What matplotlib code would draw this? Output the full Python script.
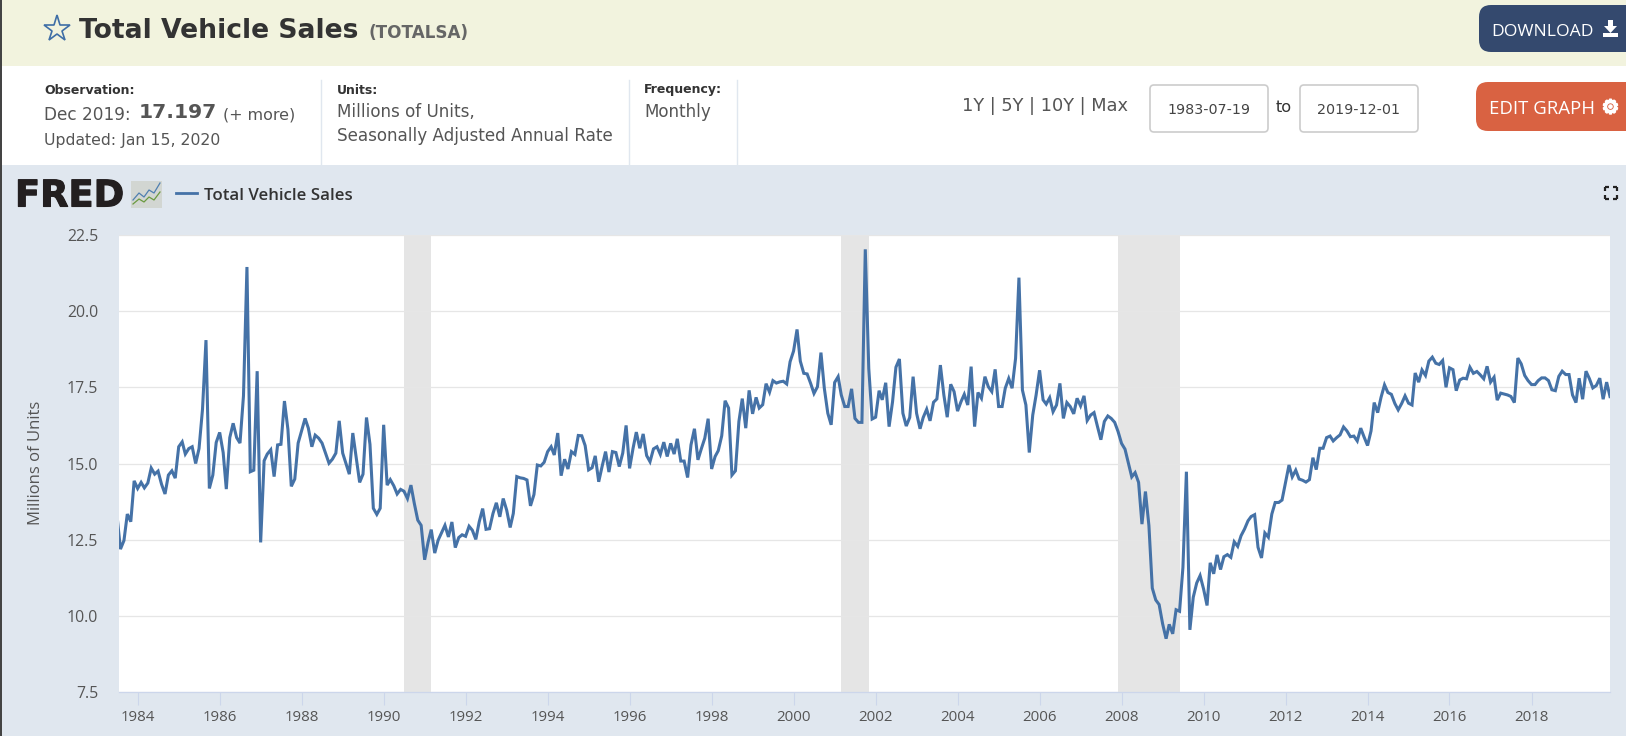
import matplotlib
matplotlib.use("Agg")
import matplotlib.pyplot as plt
import matplotlib.patheffects as pe
from matplotlib.patches import Rectangle, FancyBboxPatch, Polygon
import pandas as pd

START = "1983-07-01"
values = [
 13.3,12.19,12.47,13.34,13.09,14.43,14.18,14.38,14.20,14.36,14.85,14.65,14.75,14.32,14.0,14.62,14.76,14.52,
 15.55,15.71,15.31,15.49,15.55,15.0,15.49,16.78,19.05,14.18,14.62,15.69,16.02,15.36,14.16,15.85,16.32,15.85,
 15.67,17.22,21.45,14.73,14.78,18.03,12.41,15.09,15.31,15.45,14.57,15.61,15.63,17.05,16.12,14.25,14.49,15.67,
 16.07,16.48,16.16,15.55,15.93,15.83,15.67,15.34,15.01,15.14,15.34,16.40,15.34,14.98,14.65,16.00,15.20,14.38,
 14.65,16.51,15.63,13.53,13.33,13.53,16.27,14.29,14.47,14.27,14.0,
 14.15,14.09,13.85,14.29,13.69,13.14,12.97,11.84,12.42,12.83,12.06,12.48,12.73,12.97,12.59,13.08,12.24,12.57,
 12.66,12.61,12.94,12.81,12.51,13.08,13.52,12.84,12.86,13.36,13.71,13.25,13.85,13.47,12.90,13.36,14.57,14.53,
 14.51,14.46,13.61,13.98,14.95,14.92,15.04,15.39,15.55,15.28,16.0,14.60,15.14,14.82,15.39,15.30,15.92,15.91,
 15.59,14.79,14.86,15.25,14.40,14.90,15.39,14.72,15.39,15.36,14.90,15.34,16.25,14.84,15.50,16.03,15.50,15.97,
 15.26,15.06,15.48,15.55,15.30,15.70,15.23,15.66,15.31,15.81,15.08,15.08,14.54,15.61,16.14,15.12,15.48,15.83,
 16.47,14.82,15.23,15.42,15.91,17.06,16.82,14.62,14.76,16.38,17.13,16.16,17.40,16.63,17.17,16.82,16.93,17.62,
 17.34,17.72,17.64,17.68,17.70,17.61,18.34,18.69,19.40,
 18.36,17.96,17.94,17.63,17.30,17.52,18.64,17.47,16.65,16.27,17.66,17.85,17.25,16.87,16.87,17.45,16.48,16.35,
 16.35,22.03,18.12,16.46,16.52,17.39,17.09,17.65,16.21,17.03,18.16,18.43,16.65,16.23,16.51,17.85,16.65,16.14,
 16.51,16.78,16.40,17.01,17.12,18.23,17.25,16.52,17.60,17.36,16.72,17.03,17.27,16.92,18.18,16.21,17.33,17.14,
 17.85,17.52,17.36,18.09,16.87,16.87,17.47,17.79,17.47,18.45,21.10,17.41,16.92,15.36,16.59,17.25,18.06,17.09,
 16.95,17.16,16.70,16.92,17.63,16.48,17.0,16.87,16.63,17.14,16.89,17.22,16.41,16.59,16.67,16.21,15.78,16.38,
 16.56,16.48,16.35,16.05,
 15.66,15.47,15.03,14.56,14.70,14.38,13.01,14.08,12.96,10.91,10.52,10.37,9.74,9.25,9.72,9.41,10.20,10.15,
 11.59,14.73,9.54,10.61,11.08,11.32,10.88,10.34,11.74,11.38,12.0,11.52,11.94,12.01,11.92,12.43,12.28,12.63,
 12.85,13.12,13.26,13.32,12.25,11.90,12.72,12.58,13.34,13.72,13.72,13.80,14.38,14.95,14.56,14.78,14.49,14.45,
 14.39,14.47,15.19,14.80,15.50,15.50,15.85,15.90,15.74,15.85,15.94,16.20,16.07,15.88,15.90,15.74,16.16,15.87,
 15.59,16.07,17.0,16.67,17.17,17.58,17.33,17.27,16.97,16.76,16.97,17.22,16.98,16.92,17.97,17.67,18.07,17.89,
 18.36,18.49,18.29,18.25,18.38,17.50,18.14,18.08,17.39,17.74,17.80,17.78,18.16,17.96,18.02,17.91,17.78,18.19,
 17.67,17.83,17.08,17.31,17.28,17.25,17.20,17.0,18.46,18.27,17.89,17.72,17.59,17.59,17.72,17.81,17.81,17.72,
 17.42,17.39,17.86,18.03,17.92,17.92,17.25,17.0,17.80,17.11,18.03,17.78,17.48,17.56,17.80,17.11,17.67,17.197,
]
recession_starts = ["1990-07-01", "2001-03-01", "2007-12-01"]
recession_ends = ["1991-03-01", "2001-11-01", "2009-06-01"]
y_ticks = [7.5, 10.0, 12.5, 15.0, 17.5, 20.0, 22.5]
x_tick_years = list(range(1984, 2020, 2))
series_name = "Total Vehicle Sales"

W, H = 1626, 736
BG = "#e0e7ef"
LINE = "#4572a7"
DARK = "#333333"
GREY = "#555555"
TICK = "#555555"

fig = plt.figure(figsize=(W / 100, H / 100), dpi=100, facecolor="white")
ov = fig.add_axes([0, 0, 1, 1], zorder=0)
ov.set_xlim(0, W); ov.set_ylim(H, 0); ov.axis("off")

ov.add_patch(Rectangle((0, 0), W, 66, fc="#f2f3de", ec="none"))
ov.add_patch(Rectangle((0, 165), W, H - 165, fc=BG, ec="none"))
ov.add_patch(Rectangle((0, 0), 1.6, H, fc="#444444", ec="none", zorder=5))
for x in (321, 629, 737):
    ov.plot([x, x], [80, 165], color=BG, lw=1)

# header
ov.plot([57], [29], marker="*", ms=20, mfc="none", mec="#3f6ea6", mew=1.2)
F = "DejaVu Sans"
ov.text(79, 31.5, series_name, family=F, weight="bold", fontsize=19.2, color=DARK, va="center")
ov.text(368, 33, "(TOTALSA)", family=F, weight="bold", fontsize=12.1, color="#666666", va="center")

ov.text(44, 90, "Observation:", family=F, weight="bold", fontsize=9.0, color=DARK, va="center")
ov.text(44, 115, "Dec 2019:", family=F, fontsize=12.2, color=GREY, va="center")
ov.text(139, 113, "17.197", family=F, weight="bold", fontsize=14.6, color=GREY, va="center")
ov.text(223, 115, "(+ more)", family=F, fontsize=11.4, color=GREY, va="center")
ov.text(44, 141, "Updated: Jan 15, 2020", family=F, fontsize=11.3, color=GREY, va="center")
ov.text(337, 90, "Units:", family=F, weight="bold", fontsize=9.0, color=DARK, va="center")
ov.text(337, 112, "Millions of Units,", family=F, fontsize=12.1, color=GREY, va="center")
ov.text(337, 136, "Seasonally Adjusted Annual Rate", family=F, fontsize=12.1, color=GREY, va="center")
ov.text(644, 90, "Frequency:", family=F, weight="bold", fontsize=9.0, color=DARK, va="center")
ov.text(644, 112, "Monthly", family=F, fontsize=12.1, color=GREY, va="center")
ov.text(962, 106, "1Y | 5Y | 10Y | Max", family=F, fontsize=12.8, color=GREY, va="center")

for x0, label in ((1150, "1983-07-19"), (1300, "2019-12-01")):
    ov.add_patch(FancyBboxPatch((x0, 85), 118, 47, boxstyle="round,pad=0,rounding_size=4",
                                fc="white", ec="#cccccc", lw=1.2))
    ov.text(x0 + 59, 110, label, family=F, fontsize=10.3, color="#444444", va="center", ha="center")
ov.text(1283.5, 108, "to", family=F, fontsize=11.6, color=DARK, va="center", ha="center")

ov.add_patch(FancyBboxPatch((1479, 5), 180, 47, boxstyle="round,pad=0,rounding_size=12",
                            fc="#34496e", ec="none"))
ov.text(1491, 32, "DOWNLOAD", family="Open Sans", fontsize=12.6, color="white", va="center")
ov.add_patch(Polygon([[1608, 20], [1613, 20], [1613, 26], [1617, 26], [1610.5, 33], [1604, 26], [1608, 26]],
                     fc="white", ec="none"))
ov.add_patch(Rectangle((1603, 33), 15, 4, fc="white", ec="none"))

ov.add_patch(FancyBboxPatch((1476, 82), 180, 49, boxstyle="round,pad=0,rounding_size=12",
                            fc="#d96242", ec="none"))
ov.text(1489, 109, "EDIT GRAPH", family="Open Sans", fontsize=13.4, color="white", va="center")
ov.text(1610.5, 108, "\u2699", family="DejaVu Sans", fontsize=14, color="white", va="center", ha="center",
        path_effects=[pe.withStroke(linewidth=1.3, foreground="white")])

# FRED logo and legend
ov.text(15, 196, "FRED", family="DejaVu Sans", weight="bold", fontsize=26.5, color="#231f20",
        va="center", ha="left", path_effects=[pe.withStroke(linewidth=0.8, foreground="#231f20")])
ov.add_patch(Rectangle((131, 181), 31, 27, fc="#d2d6d2", ec="none"))
ov.plot([133, 139, 144, 149, 154, 160], [200, 193, 197, 190, 193, 183], color="#4f7fb0", lw=0.9)
ov.plot([133, 139, 144, 149, 154, 160], [204, 199, 202, 197, 200, 192], color="#6a9a40", lw=0.9)
ov.plot([176, 197], [193, 193], color=LINE, lw=2)
ov.text(204, 196, series_name, family="Open Sans", weight="semibold", fontsize=12.2, color=DARK, va="center")
for sx, sy in ((-1, -1), (1, -1), (-1, 1), (1, 1)):
    cx, cy = 1611 + sx * 6, 193 + sy * 6
    ov.plot([cx, cx - sx * 4], [cy, cy], color="#222222", lw=1.6, solid_capstyle="butt")
    ov.plot([cx, cx], [cy, cy - sy * 4], color="#222222", lw=1.6, solid_capstyle="butt")

# chart
L, R, T, B = 119, 1610, 235, 692
ax = fig.add_axes([L / W, 1 - B / H, (R - L) / W, (B - T) / H], zorder=2, facecolor="white")
dates = pd.date_range(START, periods=len(values), freq="MS")
for s, e in zip(recession_starts, recession_ends):
    ax.axvspan(pd.Timestamp(s), pd.Timestamp(e), color="#e5e5e5", lw=0, zorder=1)
ax.plot(dates, values, color=LINE, lw=2.2, solid_joinstyle="miter", zorder=3)
ax.set_xlim(pd.Timestamp("1983-07-19"), pd.Timestamp("2019-12-01"))
ax.set_ylim(7.5, 22.5)
ax.set_yticks(y_ticks)
ax.set_yticklabels([f"{v:.1f}" for v in y_ticks], family="Open Sans", fontsize=11.4, color=TICK)
ax.set_xticks([pd.Timestamp(f"{y}-01-01") for y in x_tick_years])
ax.set_xticklabels([str(y) for y in x_tick_years], family="Open Sans", fontsize=10.8, color=TICK)
ax.grid(axis="y", color="#e6e6e6", lw=0.9)
ax.set_axisbelow(False)
for gl in ax.get_ygridlines():
    gl.set_zorder(0.5)
ax.tick_params(axis="y", length=0, pad=15)
ax.tick_params(axis="x", length=9, width=0.8, color="#ccd6eb", pad=4)
for k in ("top", "right", "left"):
    ax.spines[k].set_visible(False)
ax.spines["bottom"].set_color("#ccd6eb")
ax.spines["bottom"].set_linewidth(0.9)
ov.text(36, 463, "Millions of Units", family="Open Sans", fontsize=12, color=TICK,
        rotation=90, ha="center", va="center")

fig.savefig("out.png", dpi=100, facecolor="white")
